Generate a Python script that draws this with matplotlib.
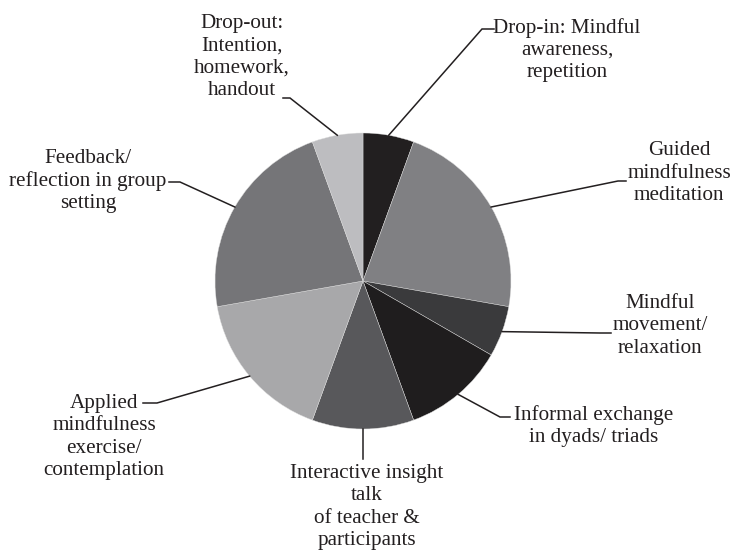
import numpy as np
import matplotlib
matplotlib.use("Agg")
import matplotlib.pyplot as plt

# session segments (minutes), clockwise from 12 o'clock
labels = [
    "Drop-in: Mindful\nawareness,\nrepetition",
    "Guided\nmindfulness\nmeditation",
    "Mindful\nmovement/\nrelaxation",
    "Informal exchange\nin dyads/ triads",
    "Interactive insight\ntalk\nof teacher &\nparticipants",
    "Applied\nmindfulness\nexercise/\ncontemplation",
    "Feedback/\nreflection in group\nsetting",
    "Drop-out:\nIntention,\nhomework,\nhandout",
]
minutes = [5, 20, 5, 10, 10, 15, 20, 5]
colors = ["#221f20", "#808083", "#3a3a3c", "#1f1d1e",
          "#58585b", "#a8a8aa", "#757578", "#bdbdc0"]

W, H = 734, 557
CX, CY, R = 363, 281, 148


def px(x, y):
    # pixel position -> data coords (pie radius = 1)
    return (x - CX) / R, (CY - y) / R


# (elbow, end of leader, text centre) in pixels
layout = [
    ((482, 29), (494, 29), (567, 50), "center"),
    ((618, 181), (626, 181), (679, 173), "center"),
    ((600, 333), (611, 333), (660, 326), "center"),
    ((500, 417), (510, 417), (594, 426), "center"),
    ((363, 459), (363, 459), (367, 507), "center"),
    ((157, 403), (143, 403), (104, 437), "center"),
    ((180, 182), (169, 182), (88, 181), "center"),
    ((290, 98), (283, 98), (242, 57), "center"),
]

fig = plt.figure(figsize=(W / 100, H / 100), dpi=100)
ax = fig.add_axes([0, 0, 1, 1])
wedges, _ = ax.pie(minutes, colors=colors, startangle=90, counterclock=False,
                   radius=1, center=(0, 0),
                   wedgeprops=dict(edgecolor="#dddddd", linewidth=0.3))
ax.set_xlim(-CX / R, (W - CX) / R)
ax.set_ylim(-(H - CY) / R, CY / R)
ax.set_aspect("auto")
ax.axis("off")

tc = "#231f20"
for w, lab, (elb, end, txt, ha) in zip(wedges, labels, layout):
    mid = np.deg2rad((w.theta1 + w.theta2) / 2)
    x0, y0 = np.cos(mid), np.sin(mid)
    ex, ey = px(*elb)
    nx, ny = px(*end)
    ax.plot([x0, ex, nx], [y0, ey, ny], color=tc, lw=1.1,
            solid_joinstyle="miter")
    tx, ty = px(*txt)
    ax.text(tx, ty, lab, ha=ha, va="center", fontsize=15.2,
            family="Liberation Serif", color=tc, linespacing=1.22)

fig.savefig("out.png", dpi=100)
